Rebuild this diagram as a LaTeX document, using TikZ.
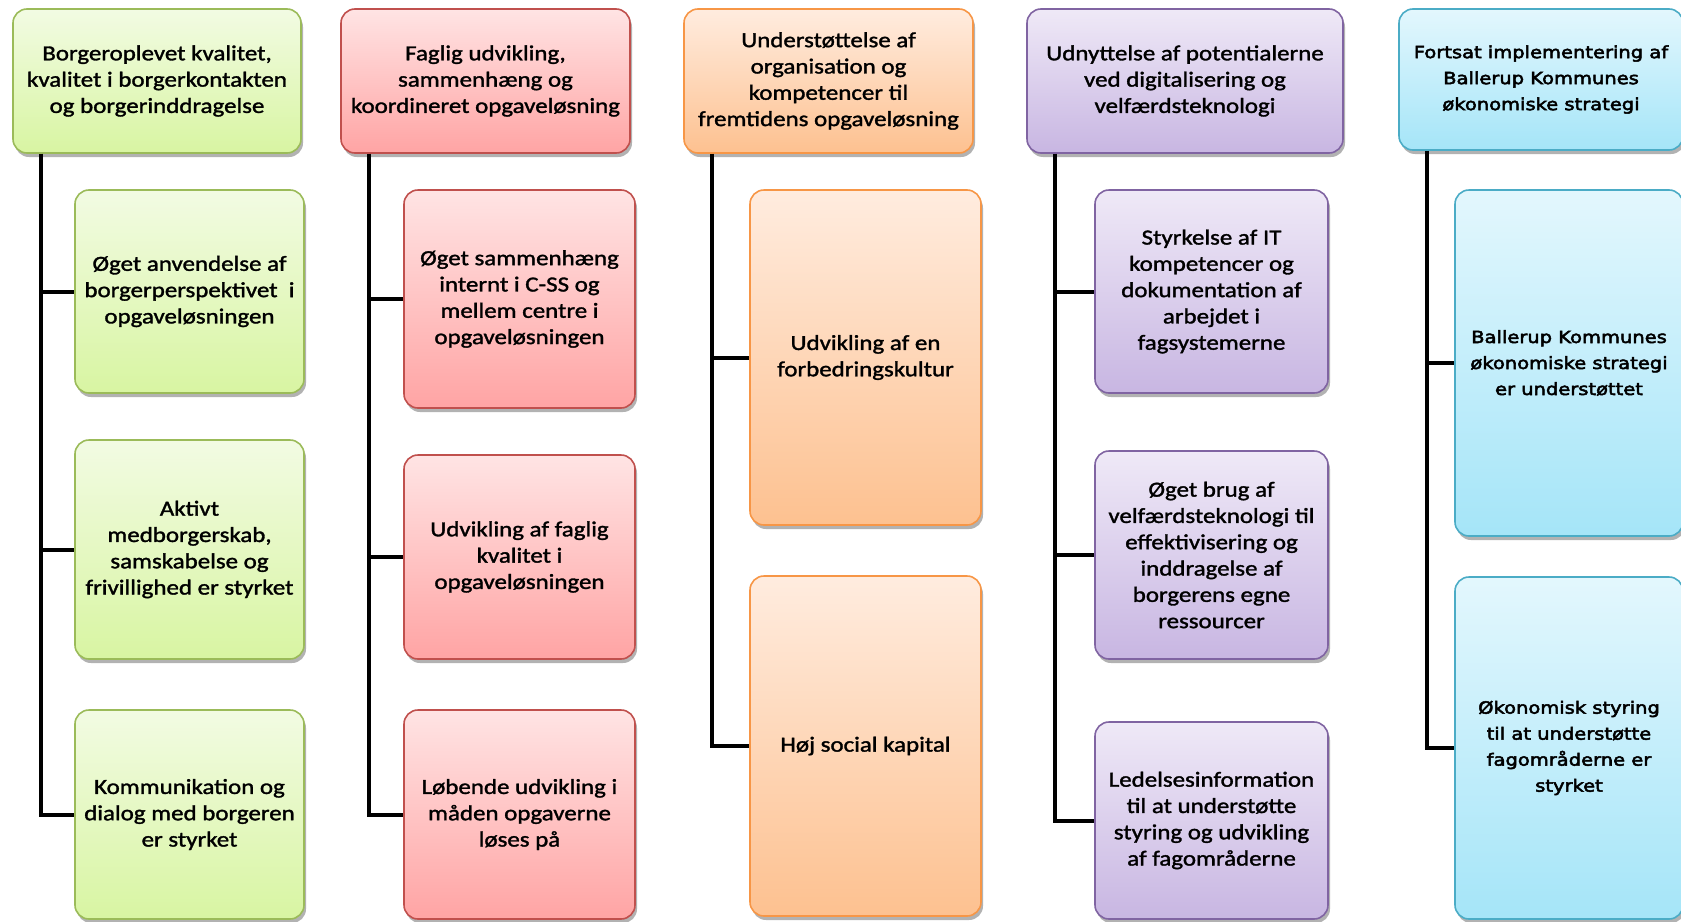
\documentclass[tikz,border=0pt]{standalone}
\usepackage{fontspec}
\setmainfont{Carlito}[FakeStretch=1.16, FakeBold=1.5]
\newfontfamily\verdfont{DejaVu Sans}[FakeStretch=1.16, FakeBold=3]
\usetikzlibrary{shadows}

\definecolor{grline}{HTML}{9BBB59}\definecolor{grtop}{HTML}{F2FBE3}\definecolor{grbot}{HTML}{D8F5A2}
\definecolor{rdline}{HTML}{C0504D}\definecolor{rdtop}{HTML}{FFE4E4}\definecolor{rdbot}{HTML}{FFA4A4}
\definecolor{orline}{HTML}{F79646}\definecolor{ortop}{HTML}{FFECDF}\definecolor{orbot}{HTML}{FDC190}
\definecolor{puline}{HTML}{8064A2}\definecolor{putop}{HTML}{EFE9F7}\definecolor{pubot}{HTML}{C8B6E2}
\definecolor{blline}{HTML}{4BACC6}\definecolor{bltop}{HTML}{E3F7FD}\definecolor{blbot}{HTML}{A5E5F8}

\begin{document}
\begin{tikzpicture}[x=1pt,y=-1pt]
	\tikzset{boxbase/.style={rounded corners=14pt, line width=1.6pt, align=center, inner sep=0pt,
			font=\fontsize{21.5}{26.3}\selectfont,
			drop shadow={shadow xshift=2pt, shadow yshift=-4pt, opacity=0.3, fill=black}},
		colbox/.style n args={3}{boxbase, draw=#1, top color=#2, bottom color=#3},
		greenbox/.style={colbox={grline}{grtop}{grbot}},
		redbox/.style={colbox={rdline}{rdtop}{rdbot}},
		orangebox/.style={colbox={orline}{ortop}{orbot}},
		purplebox/.style={colbox={puline}{putop}{pubot}},
		bluebox/.style={colbox={blline}{bltop}{blbot}, font=\verdfont\fontsize{16.8}{26}\selectfont},
		boxsize/.style 2 args={minimum width=#1pt, minimum height=#2pt},
		stem/.style={line width=4pt, black}};
	\useasboundingbox (0,0) rectangle (1681,921);
	\clip (0,0) rectangle (1681,921);
	% kolonne 1
	\node[greenbox, boxsize={288}{144}] (h1) at (157,81) {Borgeroplevet kvalitet,\\ kvalitet i borgerkontakten\\ og borgerinddragelse};
	\node[greenbox, boxsize={229}{203}] (s1a) at (189.5,291.5) {Øget anvendelse af\\ borgerperspektivet~ i\\ opgaveløsningen};
	\node[greenbox, boxsize={229}{219}] (s1b) at (189.5,549.5) {Aktivt\\ medborgerskab,\\ samskabelse og\\ frivillighed er styrket};
	\node[greenbox, boxsize={229}{209}] (s1c) at (189.5,814.5) {Kommunikation og\\ dialog med borgeren\\ er styrket};
	% kolonne 2
	\node[redbox, boxsize={289}{144}] (h2) at (485.5,81) {Faglig udvikling,\\ sammenhæng og\\ koordineret opgaveløsning};
	\node[redbox, boxsize={231}{218}] (s2a) at (519.5,299) {Øget sammenhæng\\ internt i C-SS og\\ mellem centre i\\ opgaveløsningen};
	\node[redbox, boxsize={231}{204}] (s2b) at (519.5,557) {Udvikling af faglig\\ kvalitet i\\ opgaveløsningen};
	\node[redbox, boxsize={231}{209}] (s2c) at (519.5,814.5) {Løbende udvikling i\\ måden opgaverne\\ løses på};
	% kolonne 3
	\node[orangebox, boxsize={289}{144}] (h3) at (828.5,81) {Understøttelse af\\ organisation og\\ kompetencer til\\ fremtidens opgaveløsning};
	\node[orangebox, boxsize={231}{335}] (s3a) at (865.5,357.5) {Udvikling af en\\ forbedringskultur};
	\node[orangebox, boxsize={231}{340}] (s3b) at (865.5,746) {Høj social kapital};
	% kolonne 4
	\node[purplebox, boxsize={316}{144}] (h4) at (1185,81) {Udnyttelse af potentialerne\\ ved digitalisering og\\ velfærdsteknologi};
	\node[purplebox, boxsize={233}{203}] (s4a) at (1211.5,291.5) {Styrkelse af IT\\ kompetencer og\\ dokumentation af\\ arbejdet i\\ fagsystemerne};
	\node[purplebox, boxsize={233}{208}] (s4b) at (1211.5,555) {Øget brug af\\ velfærdsteknologi til\\ effektivisering og\\ inddragelse af\\ borgerens egne\\ ressourcer};
	\node[purplebox, boxsize={233}{197}] (s4c) at (1211.5,820.5) {Ledelsesinformation\\ til at understøtte\\ styring og udvikling\\ af fagområderne};
	% kolonne 5
	\node[bluebox, boxsize={284}{141}] (h5) at (1541,79.5) {Fortsat implementering af\\ Ballerup Kommunes\\ økonomiske strategi};
	\node[bluebox, boxsize={228}{346}] (s5a) at (1569,363) {Ballerup Kommunes\\ økonomiske strategi\\ er understøttet};
	\node[bluebox, boxsize={228}{342}] (s5b) at (1569,748) {Økonomisk styring\\ til at understøtte\\ fagområderne er\\ styrket};
	% forbindelser
	\foreach \h/\s in {h1/s1a,h1/s1b,h1/s1c,h2/s2a,h2/s2b,h2/s2c,h3/s3a,h3/s3b,h4/s4a,h4/s4b,h4/s4c,h5/s5a,h5/s5b}
		\draw[stem] (\h.south west) ++(29,0) |- (\s.west);
\end{tikzpicture}
\end{document}
